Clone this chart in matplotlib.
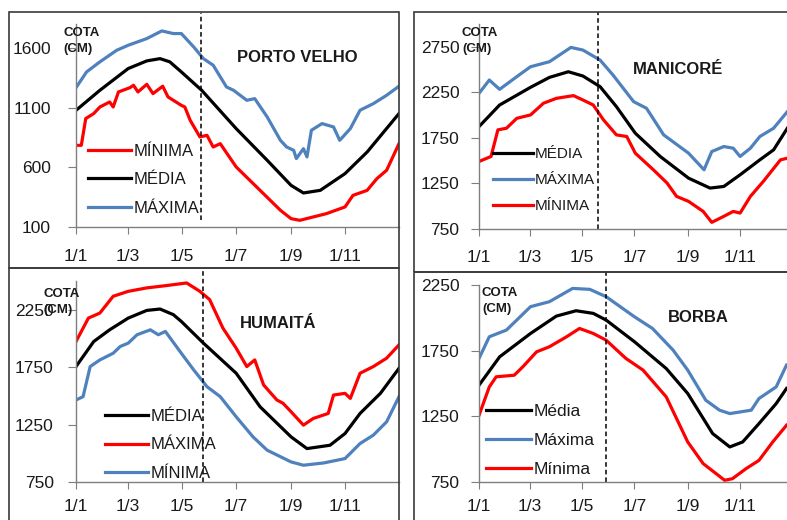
import matplotlib.pyplot as plt
from matplotlib.patches import Rectangle

plt.rcParams['font.family'] = ['Liberation Sans', 'DejaVu Sans']

W, H = 787, 520

meses_pos = [0, 59, 120, 181, 243, 304]
meses_lbl = ['1/1', '1/3', '1/5', '1/7', '1/9', '1/11']

# PORTO VELHO (cota em cm, dia do ano)
pv_media_d = [0, 27, 59, 80, 95, 106, 119, 142, 181, 216, 243, 257, 276, 304, 329, 365]
pv_media = [1077, 1245, 1427, 1491, 1510, 1483, 1399, 1245, 924, 659, 449, 385, 407, 547, 728, 1050]
pv_min_d = [0, 6, 11, 20, 27, 38, 42, 48, 61, 65, 70, 80, 87, 98, 104, 119, 123, 129, 140, 148,
            155, 163, 181, 208, 231, 243, 253, 268, 283, 304, 313, 329, 340, 351, 365]
pv_min = [784, 784, 1008, 1050, 1105, 1147, 1105, 1231, 1267, 1287, 1231, 1295, 1217, 1279, 1189,
          1119, 1105, 994, 854, 868, 770, 798, 603, 407, 240, 170, 156, 184, 212, 268, 365, 407,
          505, 575, 798]
pv_max_d = [0, 12, 27, 46, 59, 80, 97, 110, 119, 133, 144, 155, 170, 178, 193, 202, 216, 231,
            238, 246, 249, 257, 261, 266, 278, 291, 298, 310, 321, 336, 351, 365]
pv_max = [1267, 1399, 1483, 1580, 1622, 1678, 1742, 1720, 1720, 1608, 1510, 1455, 1273, 1245,
          1161, 1175, 1022, 826, 770, 742, 673, 756, 687, 910, 966, 938, 826, 924, 1078, 1133,
          1203, 1279]

# MANICORE
mn_media_d = [0, 24, 60, 82, 104, 121, 141, 160, 182, 211, 244, 269, 285, 304, 327, 343, 359]
mn_media = [1874, 2111, 2305, 2414, 2476, 2429, 2312, 2093, 1801, 1546, 1308, 1199, 1217, 1345,
            1509, 1619, 1856]
mn_max_d = [0, 12, 24, 44, 60, 82, 107, 121, 141, 156, 180, 195, 215, 244, 262, 271, 285, 296,
            304, 316, 327, 343, 359]
mn_max = [2239, 2385, 2283, 2422, 2531, 2586, 2743, 2714, 2604, 2440, 2148, 2075, 1783, 1582,
          1400, 1600, 1655, 1637, 1546, 1637, 1765, 1856, 2038]
mn_min_d = [0, 14, 22, 32, 44, 60, 75, 90, 110, 121, 133, 145, 160, 172, 182, 203, 219, 230,
            244, 261, 271, 285, 296, 304, 316, 331, 351, 359]
mn_min = [1491, 1546, 1838, 1856, 1965, 2002, 2130, 2184, 2214, 2166, 2111, 1947, 1783, 1765,
          1582, 1400, 1254, 1108, 1053, 943, 823, 889, 943, 925, 1108, 1272, 1509, 1527]

# HUMAITA
hu_media_d = [0, 20, 38, 59, 80, 95, 110, 119, 144, 181, 208, 243, 261, 287, 304, 321, 344, 365]
hu_media = [1755, 1973, 2075, 2177, 2244, 2256, 2207, 2148, 1959, 1697, 1405, 1143, 1041, 1070,
            1172, 1347, 1522, 1740]
hu_max_d = [0, 14, 27, 42, 59, 80, 102, 119, 125, 140, 151, 166, 181, 193, 202, 212, 227, 234,
            243, 257, 268, 285, 291, 304, 310, 321, 336, 351, 365]
hu_max = [1973, 2177, 2221, 2367, 2410, 2440, 2460, 2477, 2483, 2410, 2338, 2090, 1915, 1755,
          1813, 1595, 1464, 1435, 1362, 1245, 1303, 1347, 1507, 1522, 1478, 1697, 1755, 1828, 1944]
hu_min_d = [0, 8, 16, 27, 42, 50, 59, 69, 84, 93, 101, 119, 133, 148, 163, 181, 200, 216, 243,
            257, 280, 304, 321, 336, 351, 365]
hu_min = [1464, 1493, 1755, 1813, 1871, 1930, 1959, 2032, 2075, 2032, 2061, 1871, 1726, 1580,
          1493, 1318, 1143, 1027, 925, 896, 916, 954, 1085, 1158, 1274, 1493]

# BORBA
bo_media_d = [0, 24, 60, 90, 113, 133, 148, 181, 218, 243, 272, 292, 307, 326, 346, 358]
bo_media = [1487, 1703, 1881, 2013, 2054, 2034, 1983, 1818, 1614, 1424, 1119, 1017, 1055, 1195,
            1347, 1462]
bo_max_d = [0, 12, 32, 60, 82, 109, 129, 148, 181, 202, 226, 243, 264, 280, 292, 317, 326, 346, 358]
bo_max = [1691, 1856, 1907, 2085, 2123, 2224, 2217, 2161, 2008, 1919, 1754, 1602, 1373, 1297,
          1271, 1297, 1386, 1474, 1640]
bo_min_d = [0, 12, 20, 41, 51, 67, 82, 102, 117, 133, 148, 171, 191, 218, 243, 261, 276, 286,
            295, 311, 326, 342, 358]
bo_min = [1258, 1474, 1551, 1563, 1627, 1741, 1780, 1856, 1919, 1881, 1830, 1691, 1602, 1398,
          1055, 890, 814, 763, 775, 852, 915, 1055, 1182]

# dia da linha tracejada em cada painel
corte = [141, 138, 144, 148]

AZUL = '#4f81bd'
VERM = '#ff0000'
CINZA = '#7f7f7f'


def px_ax(left, top, width, bottom):
    return [left / W, 1 - bottom / H, width / W, (bottom - top) / H]


fig = plt.figure(figsize=(W / 100, H / 100), dpi=100)

# molduras dos quatro graficos
for (x0, y0, x1, y1) in [(9, 12, 399, 268), (414, 12, 800, 272), (9, 268, 399, 530), (414, 272, 800, 530)]:
    fig.patches.append(Rectangle((x0 / W, 1 - y1 / H), (x1 - x0) / W, (y1 - y0) / H,
                                 transform=fig.transFigure, fill=False, edgecolor='#3a3a3a', lw=1.2))

paineis = [
    dict(pos=px_ax(76, 24, 323, 227), ylim=(100, 1800), yt=[100, 600, 1100, 1600], ypad=12, xpad=11,
         series=[(pv_min_d, pv_min, VERM, 'MÍNIMA'), (pv_media_d, pv_media, 'black', 'MÉDIA'),
                 (pv_max_d, pv_max, AZUL, 'MÁXIMA')],
         nome='PORTO VELHO', nome_xy=(237, 57), cota_xy=(63, 27), leg_xy=(88, 144), leg_fs=12,
         ymax_corte=1.054, ymin_corte=0.034),
    dict(pos=px_ax(479, 24, 313.5, 229), ylim=(750, 3000), yt=[750, 1250, 1750, 2250, 2750], ypad=8, xpad=10,
         series=[(mn_media_d, mn_media, 'black', 'MÉDIA'), (mn_max_d, mn_max, AZUL, 'MÁXIMA'),
                 (mn_min_d, mn_min, VERM, 'MÍNIMA')],
         nome='MANICORÉ', nome_xy=(633, 70), cota_xy=(462, 27), leg_xy=(493, 147), leg_fs=11,
         ymax_corte=1.06, ymin_corte=0.0),
    dict(pos=px_ax(76, 281, 323, 482), ylim=(750, 2500), yt=[750, 1250, 1750, 2250], ypad=10, xpad=7,
         series=[(hu_media_d, hu_media, 'black', 'MÉDIA'), (hu_max_d, hu_max, VERM, 'MÁXIMA'),
                 (hu_min_d, hu_min, AZUL, 'MÍNIMA')],
         nome='HUMAITÁ', nome_xy=(240, 323), cota_xy=(43, 288), leg_xy=(105, 409), leg_fs=12,
         ymax_corte=1.065, ymin_corte=0.0),
    dict(pos=px_ax(479, 285, 313.5, 482), ylim=(750, 2250), yt=[750, 1250, 1750, 2250], ypad=8, xpad=7,
         series=[(bo_media_d, bo_media, 'black', 'Média'), (bo_max_d, bo_max, AZUL, 'Máxima'),
                 (bo_min_d, bo_min, VERM, 'Mínima')],
         nome='BORBA', nome_xy=(668, 318), cota_xy=(482, 287), leg_xy=(486, 404), leg_fs=12.5,
         ymax_corte=1.066, ymin_corte=0.0),
]

for i, p in enumerate(paineis):
    ax = fig.add_axes(p['pos'])
    ax.patch.set_visible(False)
    for d, v, c, lab in p['series']:
        ax.plot(d, v, color=c, lw=2.3, label=lab, solid_joinstyle='round')
    ax.axvline(corte[i], ymin=p['ymin_corte'], ymax=p['ymax_corte'], color='black', lw=1.1,
               ls=(0, (3, 2)), clip_on=False)
    ax.set_xlim(0, 365)
    ax.set_ylim(*p['ylim'])
    ax.set_xticks(meses_pos)
    ax.set_xticklabels(meses_lbl)
    ax.set_yticks(p['yt'])
    ax.tick_params(axis='both', direction='out', color=CINZA, labelsize=12.5, labelcolor='#1a1a1a')
    ax.tick_params(axis='x', length=5, pad=p['xpad'])
    ax.tick_params(axis='y', length=6, pad=p['ypad'])
    for s in ['top', 'right']:
        ax.spines[s].set_visible(False)
    for s in ['left', 'bottom']:
        ax.spines[s].set_color(CINZA)
        ax.spines[s].set_linewidth(1.0)

    fig.text(p['nome_xy'][0] / W, 1 - p['nome_xy'][1] / H, p['nome'], fontsize=12,
             fontweight='bold', color='#1a1a1a', va='center', ha='left')
    fig.text(p['cota_xy'][0] / W, 1 - p['cota_xy'][1] / H, 'COTA\n(CM)', fontsize=9.5,
             fontweight='bold', color='#1a1a1a', va='top', ha='left', linespacing=1.45)

    ax.legend(loc='upper left', bbox_to_anchor=(p['leg_xy'][0] / W, 1 - p['leg_xy'][1] / H),
              bbox_transform=fig.transFigure, frameon=False, borderpad=0, borderaxespad=0,
              handlelength=2.6, handletextpad=0.15, labelspacing=0.8, fontsize=p['leg_fs'],
              labelcolor='#1a1a1a')

fig.savefig('out.png', dpi=100)
